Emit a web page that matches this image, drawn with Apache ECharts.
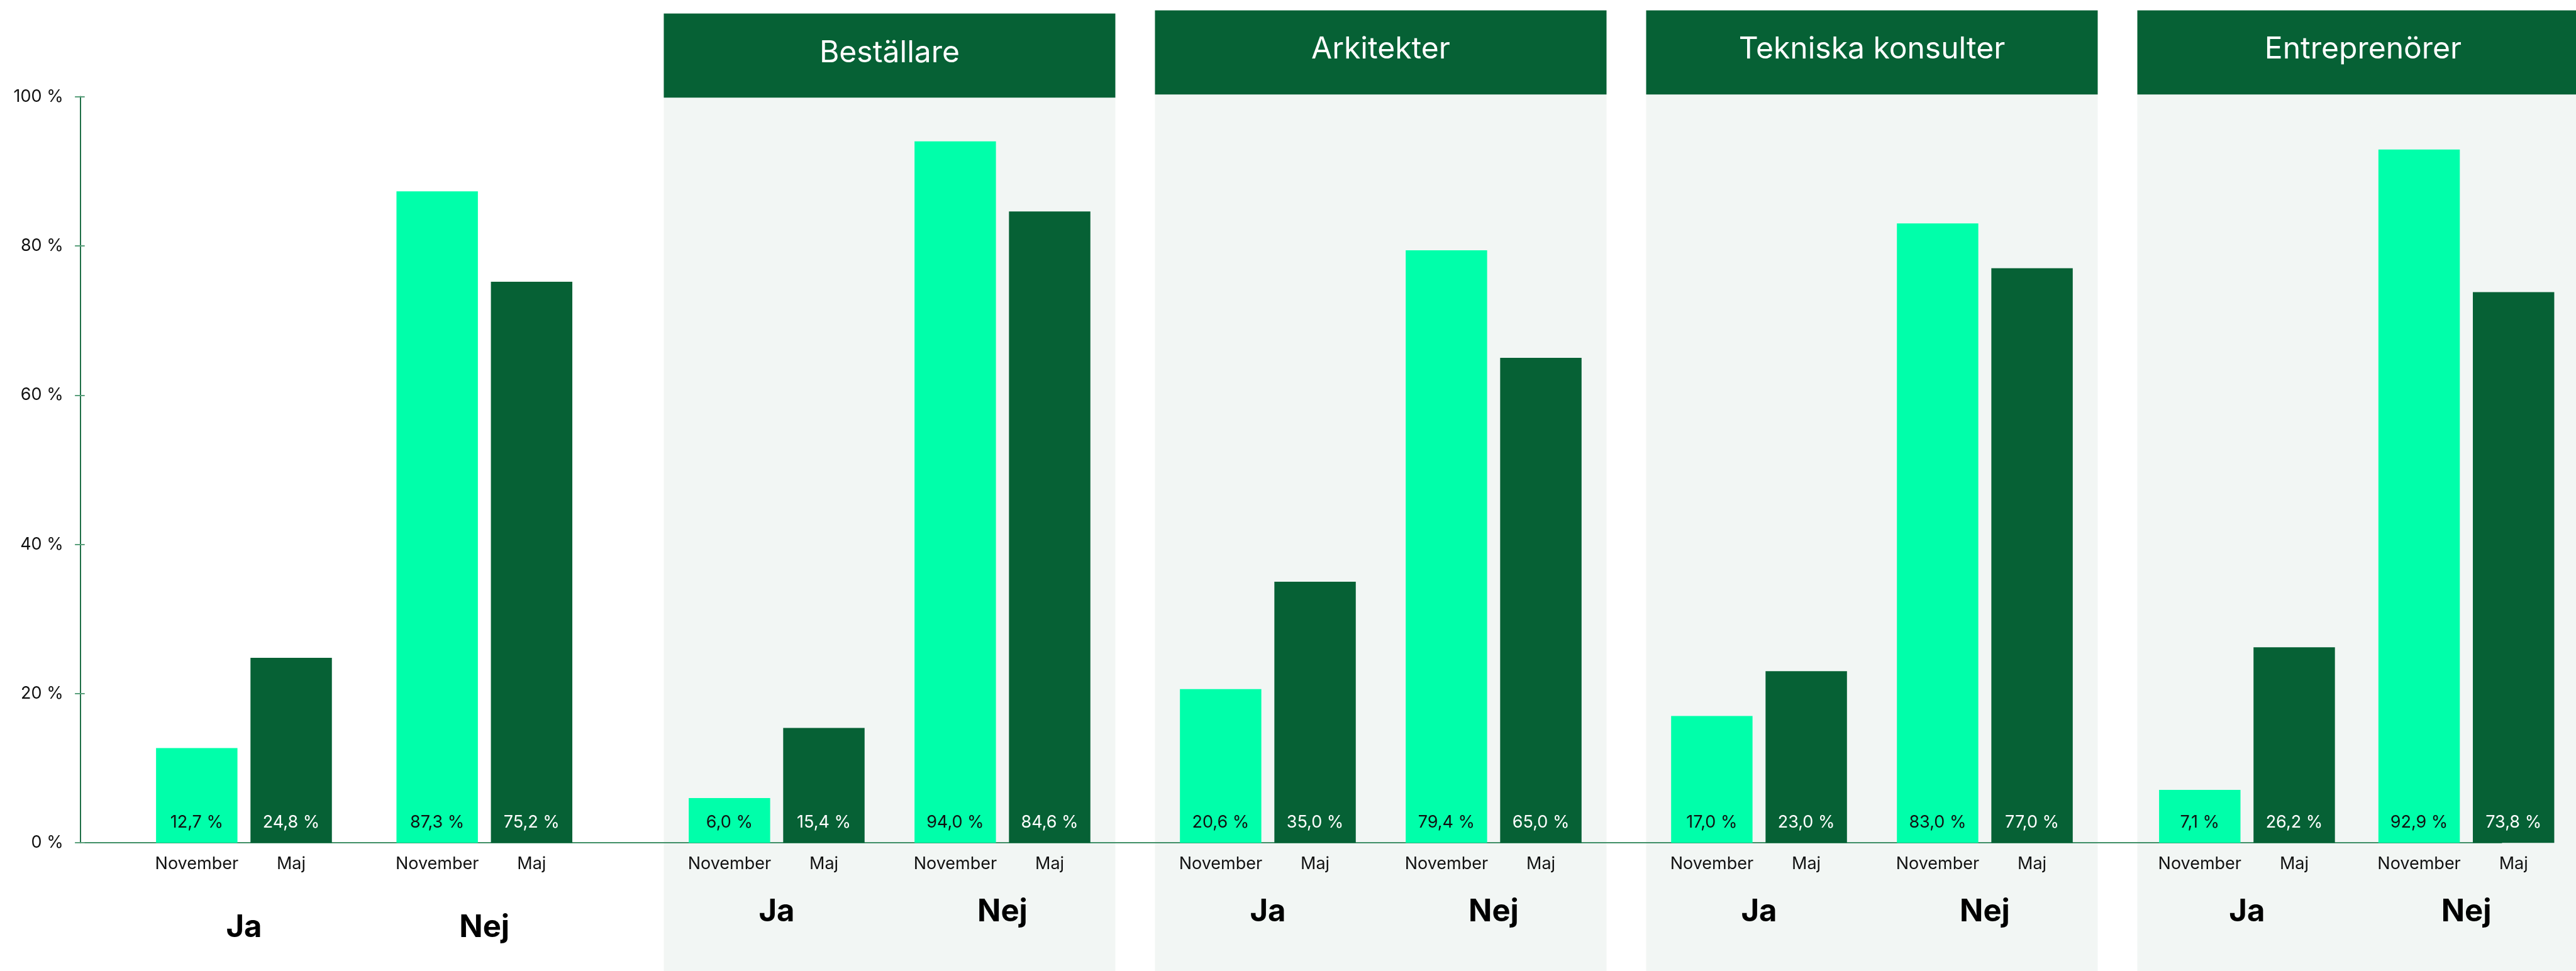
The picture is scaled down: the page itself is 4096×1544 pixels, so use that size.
<!DOCTYPE html>
<html>
<head>
<meta charset="utf-8">
<script src="https://cdn.jsdelivr.net/npm/echarts@6/dist/echarts.min.js"></script>
<style>
    html, body { margin: 0; padding: 0; background: #fff; }
    #chart { width: 4096px; height: 1544px; }
</style>
</head>
<body>
<div id="chart"></div>
<script>
// data
const answers = ['Ja', 'Nej'];
const months = ['November', 'Maj'];
const groupTitles = ['', 'Beställare', 'Arkitekter', 'Tekniska konsulter', 'Entreprenörer'];

const allaNovember = [12.7, 87.3];
const allaMaj = [24.8, 75.2];
const bestallareNovember = [6.0, 94.0];
const bestallareMaj = [15.4, 84.6];
const arkitekterNovember = [20.6, 79.4];
const arkitekterMaj = [35.0, 65.0];
const tekniskaNovember = [17.0, 83.0];
const tekniskaMaj = [23.0, 77.0];
const entreprenorerNovember = [7.1, 92.9];
const entreprenorerMaj = [26.2, 73.8];

const novemberValues = [allaNovember, bestallareNovember, arkitekterNovember, tekniskaNovember, entreprenorerNovember];
const majValues = [allaMaj, bestallareMaj, arkitekterMaj, tekniskaMaj, entreprenorerMaj];

const yMin = 0;
const yMax = 100;
const yStep = 20;

// layout, measured in reference pixels, scaled to the window
const S = 0.863;
const W = 4096, H = 1544;
const FONT = 'Inter, "Noto Sans", sans-serif';
const plotTop = 178, plotZero = 1553;
const axisX = 148, axisEnd = 4609;
const panelLeft = [228, 1223, 2128, 3033, 3938];
const panelWidth = [886, 832, 832, 832, 832];
const headerTop = [0, 25, 19, 19, 19];
const headerHeight = 155;
const answerOffset = [156, 128, 128, 128, 128];

const LIGHT = '#00ffaa';
const DARK = '#066135';
const PANEL_BG = '#f2f6f4';

function fmt(v) {
    return v.toFixed(1).replace('.', ',') + ' %';
}

function barLabel(valueColor) {
    return {
        show: true,
        position: ['50%', '100%'],
        align: 'center',
        verticalAlign: 'middle',
        offset: [0, 1],
        formatter: function (p) {
            return '{v|' + fmt(p.value) + '}\n{m|' + p.seriesName + '}';
        },
        rich: {
            v: { color: valueColor, fontSize: 27, fontFamily: FONT, lineHeight: 66 },
            m: { color: '#111', fontSize: 27, fontFamily: FONT, lineHeight: 66 }
        }
    };
}

const gridTop = plotTop * S;
const gridBottom = H - plotZero * S;

let grids = [{
    left: axisX * S, width: (axisEnd - axisX) * S, top: gridTop, bottom: gridBottom
}];
let xAxes = [{
    gridIndex: 0, type: 'value', min: 0, max: 1, z: 3,
    axisLine: { show: true, lineStyle: { color: '#3f8f66', width: 2 } },
    axisTick: { show: false }, axisLabel: { show: false }, splitLine: { show: false }
}];
let yAxes = [{
    gridIndex: 0, type: 'value', position: 'left', min: yMin, max: yMax, interval: yStep, z: 3,
    axisLine: { show: true, lineStyle: { color: '#1f6f47', width: 2 } },
    axisTick: { show: true, length: 8.6, lineStyle: { color: '#5a9f7b', width: 2 } },
    axisLabel: {
        margin: 27, fontSize: 27, fontFamily: FONT, color: '#111',
        formatter: '{value} %'
    },
    splitLine: { show: false }
}, {
    // short tick stubs on the inner side of the same axis
    gridIndex: 0, type: 'value', position: 'left', offset: 0, min: yMin, max: yMax, interval: yStep, z: 3,
    axisLine: { show: false },
    axisTick: { show: true, inside: true, length: 7, lineStyle: { color: '#5a9f7b', width: 2 } },
    axisLabel: { show: false },
    splitLine: { show: false }
}];
let series = [];
let graphics = [];

for (let i = 0; i < novemberValues.length; i++) {
    const gi = i + 1;
    grids.push({
        left: panelLeft[i] * S, width: panelWidth[i] * S, top: gridTop, bottom: gridBottom
    });
    xAxes.push({
        gridIndex: gi, type: 'category', data: answers, z: 3,
        axisLine: { show: false }, axisTick: { show: false },
        axisLabel: {
            margin: answerOffset[i] * S, verticalAlign: 'middle',
            fontSize: 49, fontWeight: 'bold', fontFamily: FONT, color: '#000'
        }
    });
    yAxes.push({ gridIndex: gi, type: 'value', min: yMin, max: yMax, show: false });

    series.push({
        name: months[0], type: 'bar', xAxisIndex: gi, yAxisIndex: gi + 1,
        data: novemberValues[i], barWidth: 150 * S, barGap: '16%', z: 4,
        itemStyle: { color: LIGHT }, label: barLabel('#111')
    });
    series.push({
        name: months[1], type: 'bar', xAxisIndex: gi, yAxisIndex: gi + 1,
        data: majValues[i], barWidth: 150 * S, barGap: '16%', z: 4,
        itemStyle: { color: DARK }, label: barLabel('#fff')
    });

    if (i > 0) {
        const x = panelLeft[i] * S;
        const w = panelWidth[i] * S;
        const top = headerTop[i] * S;
        const h = headerHeight * S;
        graphics.push({
            type: 'rect', z: 0, silent: true,
            shape: { x: x, y: top + h, width: w, height: H - top - h },
            style: { fill: PANEL_BG }
        });
        graphics.push({
            type: 'rect', z: 0, silent: true,
            shape: { x: x, y: top, width: w, height: h },
            style: { fill: DARK }
        });
        graphics.push({
            type: 'text', z: 1, silent: true,
            x: x + w / 2, y: top + h / 2 - 5 * S,
            style: {
                text: groupTitles[i], fill: '#fff', fontSize: 48, fontFamily: FONT,
                align: 'center', verticalAlign: 'middle'
            }
        });
    }
}

const chart = echarts.init(document.getElementById('chart'));
chart.setOption({
    animation: false,
    backgroundColor: '#fff',
    grid: grids,
    xAxis: xAxes,
    yAxis: yAxes,
    series: series,
    graphic: graphics
});
</script>
</body>
</html>
